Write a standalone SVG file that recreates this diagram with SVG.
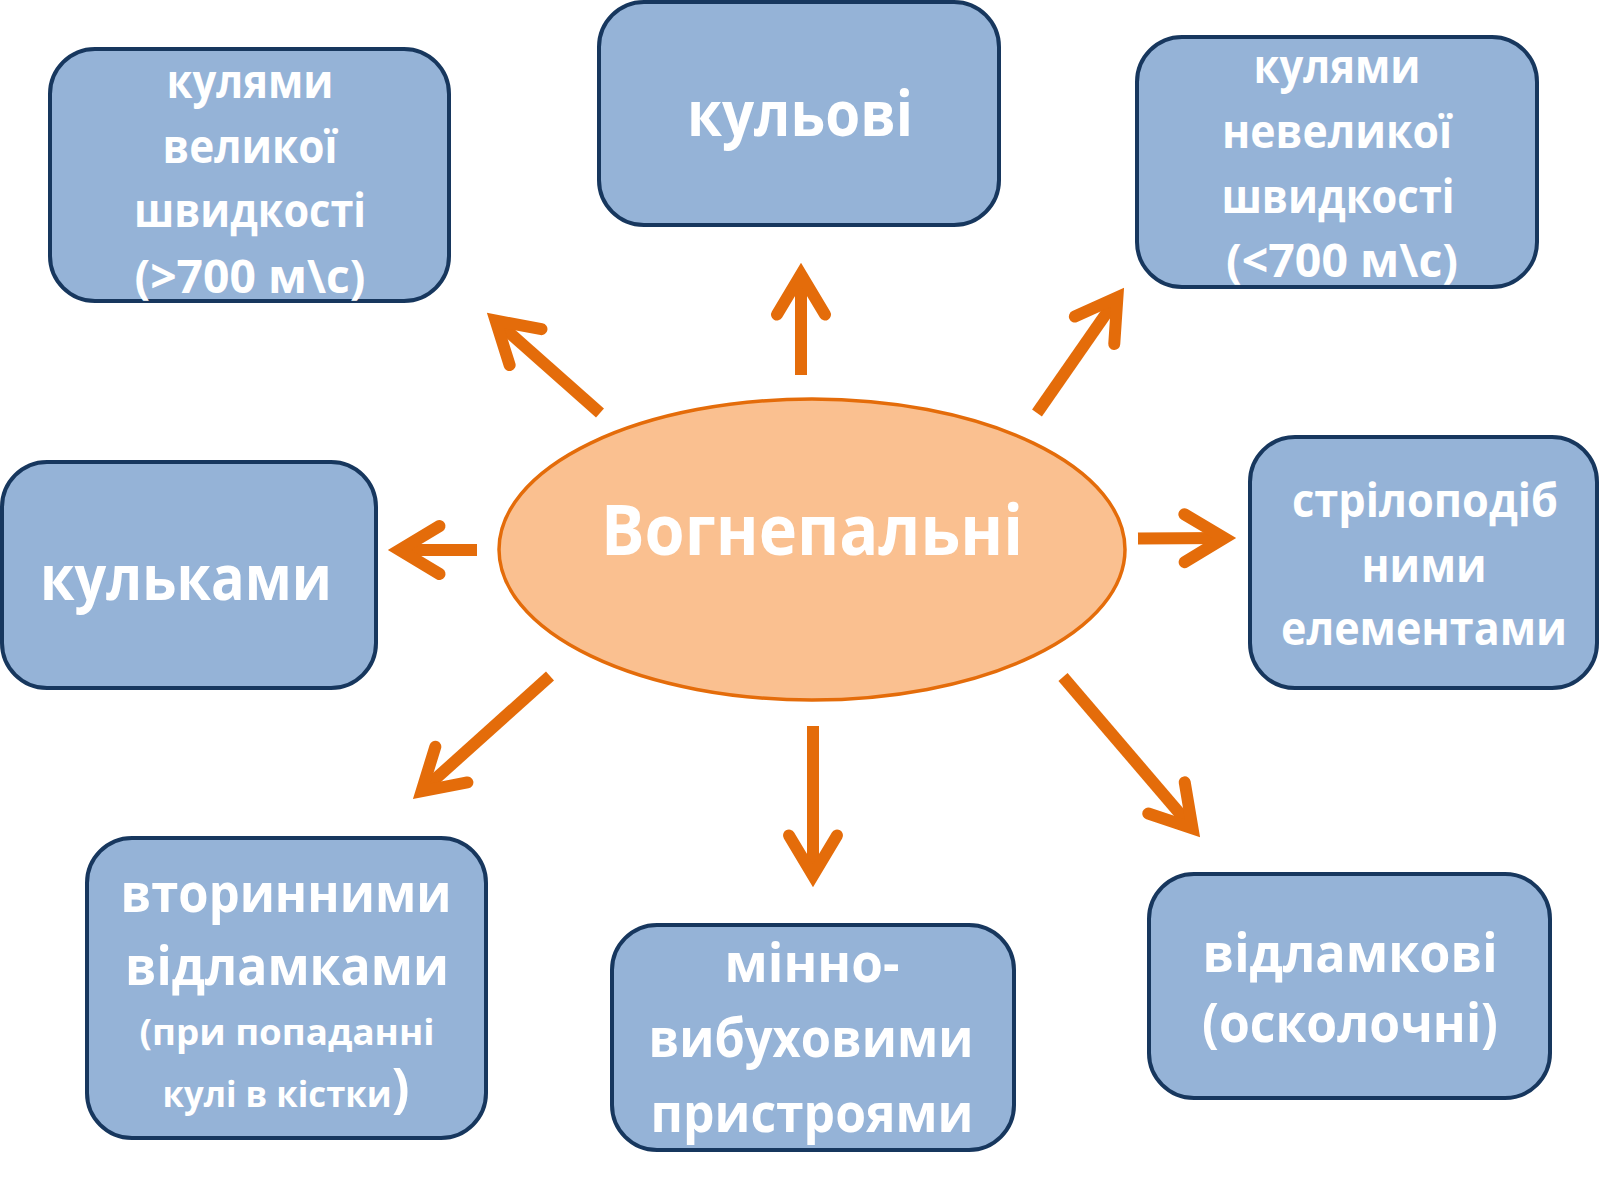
<svg xmlns="http://www.w3.org/2000/svg" width="1600" height="1200" viewBox="0 0 1600 1200">
<style>
.box{fill:#95B3D7;stroke:#17375E;stroke-width:4}
.hub{fill:#FAC090;stroke:#E46C0A;stroke-width:3.5}
text{font-family:"Open Sans","Noto Sans","DejaVu Sans",sans-serif;font-weight:700;fill:#FFFFFF;text-anchor:middle}
.s{font-size:47px}
.m{font-size:53px}
.xs{font-size:35px}
.l{font-size:62px}
.c{font-size:70px}
.arr{fill:none;stroke:#E46C0A;stroke-width:12;stroke-linecap:butt;marker-end:url(#ah)}
</style>
<defs>
<marker id="ah" markerUnits="userSpaceOnUse" orient="auto" refX="0" refY="0" markerWidth="1" markerHeight="1" overflow="visible">
<path d="M-40,-24 L0,0 L-40,24" fill="none" stroke="#E46C0A" stroke-width="12" stroke-linecap="round" stroke-linejoin="miter" stroke-miterlimit="10"/>
</marker>
</defs>
<rect width="1600" height="1200" fill="#FFFFFF"/>
<g id="connectors">
<line class="arr" x1="600" y1="413" x2="495.6" y2="320.6"/>
<line class="arr" x1="801" y1="375" x2="801" y2="274.5"/>
<line class="arr" x1="1037" y1="413" x2="1117.4" y2="297.4"/>
<line class="arr" x1="477" y1="550" x2="399.5" y2="550"/>
<line class="arr" x1="1138" y1="538.5" x2="1224.5" y2="538"/>
<line class="arr" x1="550" y1="676" x2="421.6" y2="791.3"/>
<line class="arr" x1="813" y1="726" x2="813" y2="875.5"/>
<line class="arr" x1="1063" y1="677" x2="1192.5" y2="828.3"/>
</g>
<g id="hub">
<ellipse class="hub" cx="812" cy="549.5" rx="313" ry="150.5"/>
<text class="c" x="812" y="555" textLength="422" lengthAdjust="spacingAndGlyphs">Вогнепальні</text>
</g>
<g id="high-speed">
<rect class="box" x="50" y="49" width="399" height="252" rx="45"/>
<text class="s" x="250" y="98" textLength="167" lengthAdjust="spacingAndGlyphs">кулями</text>
<text class="s" x="250" y="163" textLength="175" lengthAdjust="spacingAndGlyphs">великої</text>
<text class="s" x="250" y="227" textLength="232" lengthAdjust="spacingAndGlyphs">швидкості</text>
<text class="s" x="250" y="293" textLength="231" lengthAdjust="spacingAndGlyphs">(&gt;700 м\с)</text>
</g>
<g id="bullet">
<rect class="box" x="599" y="2" width="400" height="223" rx="45"/>
<text class="l" x="800" y="136" textLength="226" lengthAdjust="spacingAndGlyphs">кульові</text>
</g>
<g id="low-speed">
<rect class="box" x="1137" y="37" width="400" height="250" rx="45"/>
<text class="s" x="1337" y="83" textLength="167" lengthAdjust="spacingAndGlyphs">кулями</text>
<text class="s" x="1337" y="148" textLength="230" lengthAdjust="spacingAndGlyphs">невеликої</text>
<text class="s" x="1338" y="213" textLength="233" lengthAdjust="spacingAndGlyphs">швидкості</text>
<text class="s" x="1342" y="277" textLength="232" lengthAdjust="spacingAndGlyphs">(&lt;700 м\с)</text>
</g>
<g id="pellets">
<rect class="box" x="2" y="462" width="374" height="226" rx="45"/>
<text class="l" x="186" y="600" textLength="292" lengthAdjust="spacingAndGlyphs">кульками</text>
</g>
<g id="flechettes">
<rect class="box" x="1250" y="437" width="347" height="251" rx="45"/>
<text class="s" x="1425" y="517" textLength="266" lengthAdjust="spacingAndGlyphs">стрілоподіб</text>
<text class="s" x="1424" y="582" textLength="125" lengthAdjust="spacingAndGlyphs">ними</text>
<text class="s" x="1424" y="645" textLength="286" lengthAdjust="spacingAndGlyphs">елементами</text>
</g>
<g id="secondary">
<rect class="box" x="87" y="838" width="399" height="300" rx="45"/>
<text class="m" x="286" y="912" textLength="331" lengthAdjust="spacingAndGlyphs">вторинними</text>
<text class="m" x="287" y="985" textLength="324" lengthAdjust="spacingAndGlyphs">відламками</text>
<text class="xs" x="287" y="1045" textLength="295" lengthAdjust="spacingAndGlyphs">(при попаданні</text>
<text class="xs" x="286" y="1107" textLength="247" lengthAdjust="spacingAndGlyphs">кулі в кістки<tspan class="m">)</tspan></text>
</g>
<g id="explosive">
<rect class="box" x="612" y="925" width="402" height="225" rx="45"/>
<text class="m" x="812" y="982" textLength="175" lengthAdjust="spacingAndGlyphs">мінно-</text>
<text class="m" x="811" y="1057" textLength="325" lengthAdjust="spacingAndGlyphs">вибуховими</text>
<text class="m" x="812" y="1132" textLength="323" lengthAdjust="spacingAndGlyphs">пристроями</text>
</g>
<g id="fragment">
<rect class="box" x="1149" y="874" width="401" height="224" rx="45"/>
<text class="m" x="1350" y="972" textLength="295" lengthAdjust="spacingAndGlyphs">відламкові</text>
<text class="m" x="1350" y="1042" textLength="296" lengthAdjust="spacingAndGlyphs">(осколочні)</text>
</g>
</svg>
